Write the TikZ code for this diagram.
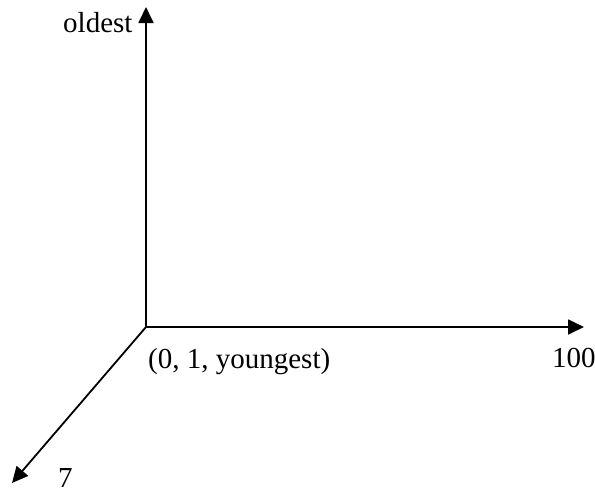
\documentclass[tikz,border=0pt]{standalone}
\usepackage{fontspec}
\setmainfont{Liberation Serif}
\usepackage{tikz}
\usetikzlibrary{arrows.meta,positioning}

\begin{document}
\begin{tikzpicture}[x=1pt,y=-1pt,
      ax/.style={-{Triangle[length=16pt,width=15pt]},line width=1.8pt,color=black},
      lbl/.style={inner sep=0pt,anchor=base west,font=\fontsize{29}{34}\selectfont}]
      \useasboundingbox (0,0) rectangle (595,493);
      \coordinate (o) at (146,327);
      \coordinate (top) at (146,7);
      \coordinate (right) at (584,327);
      \coordinate (front) at (12,483);
      \draw[ax] (o) -- (top);
      \draw[ax] (o) -- (right);
      \draw[ax] (o) -- (front);
      \node[lbl] (oldest) at (63,32) {oldest};
      \node[lbl] (start) at (148,368) {(0, 1, youngest)};
      \node[lbl] (hundred) at (552,367) {100};
      \node[lbl] (seven) at (58,487) {7};
    \end{tikzpicture}
\end{document}
